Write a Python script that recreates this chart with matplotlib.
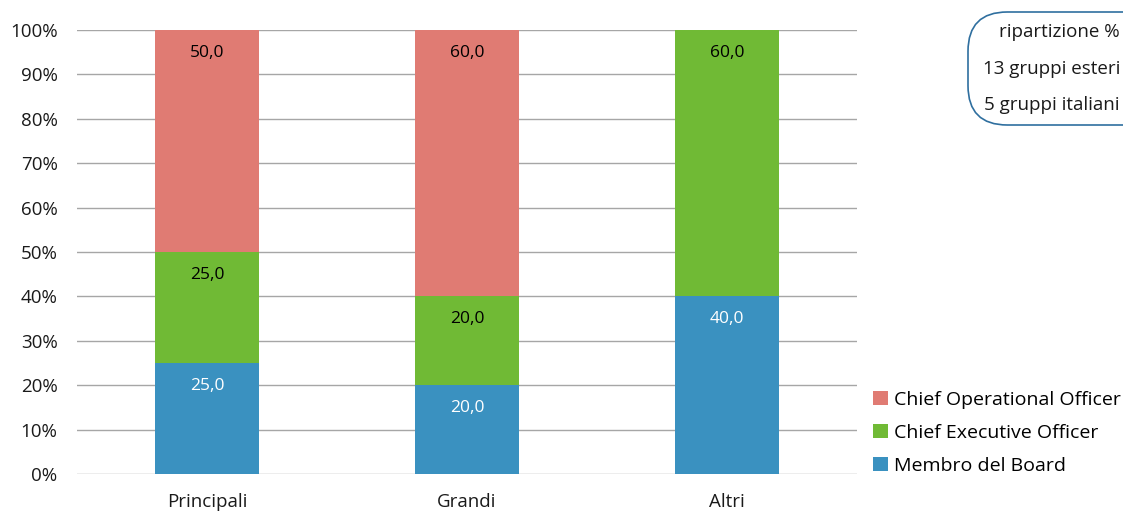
import matplotlib.pyplot as plt
import numpy as np
from matplotlib.patches import FancyBboxPatch

plt.rcParams['font.family'] = ['Open Sans', 'DejaVu Sans']

# dati
categorie = ['Principali', 'Grandi', 'Altri']
membro_board = [25.0, 20.0, 40.0]
ceo = [25.0, 20.0, 60.0]
coo = [50.0, 60.0, 0.0]
serie_nomi = ['Membro del Board', 'Chief Executive Officer', 'Chief Operational Officer']
note_righe = ['ripartizione %', '13 gruppi esteri', '5 gruppi italiani']

colori = ['#3A91C0', '#70BA35', '#E07B73']
colori_testo = ['white', 'black', 'black']

fig = plt.figure(figsize=(11.23, 5.19), dpi=100)
ax = fig.add_axes([77 / 1123, 1 - 474 / 519, 780 / 1123, 444 / 519])

x = np.arange(len(categorie))
width = 0.4
bottom = np.zeros(len(categorie))
bars = []
for vals, col, tcol, nome in zip([membro_board, ceo, coo], colori, colori_testo, serie_nomi):
    vals = np.array(vals)
    b = ax.bar(x, vals, width, bottom=bottom, color=col, label=nome, zorder=3)
    bars.append(b)
    for xi, v, bt in zip(x, vals, bottom):
        if v > 0:
            ax.text(xi, bt + v - 5.1, f'{v:.1f}'.replace('.', ','), ha='center', va='center',
                    color=tcol, fontsize=12.5, zorder=4)
    bottom = bottom + vals

ax.set_xlim(-0.5, 2.5)
ax.set_ylim(0, 100)
ax.set_yticks(np.arange(0, 101, 10))
ax.set_yticklabels([f'{v}%' for v in range(0, 101, 10)])
ax.set_xticks(x)
ax.set_xticklabels(categorie)
ax.tick_params(length=0, labelsize=13.5, colors='#1a1a1a')
ax.tick_params(axis='y', pad=14)
ax.tick_params(axis='x', pad=14)
ax.grid(axis='y', color='#A6A6A6', linewidth=1, zorder=0)
for s in ax.spines.values():
    s.set_visible(False)

handles = [bars[2], bars[1], bars[0]]
leg = fig.legend(handles, [serie_nomi[2], serie_nomi[1], serie_nomi[0]],
                 loc='upper left', bbox_to_anchor=(873 / 1123, 1 - 391 / 519),
                 frameon=False, fontsize=14, handlelength=0.75, handleheight=0.75,
                 handletextpad=0.35, labelspacing=0.76, borderaxespad=0, borderpad=0)

box = FancyBboxPatch((968 / 1123, 1 - 125 / 519), 200 / 1123, 113 / 519,
                     boxstyle='round,pad=0,rounding_size=0.035',
                     transform=fig.transFigure, facecolor='white',
                     edgecolor='#2F6F9F', linewidth=1.2, mutation_aspect=1123 / 519)
fig.patches.append(box)
for i, riga in enumerate(note_righe):
    fig.text(1120 / 1123, 1 - (32 + i * 36.5) / 519, riga, ha='right', va='center',
             fontsize=13.5, color='#1a1a1a')

fig.savefig('out.png', dpi=100)
